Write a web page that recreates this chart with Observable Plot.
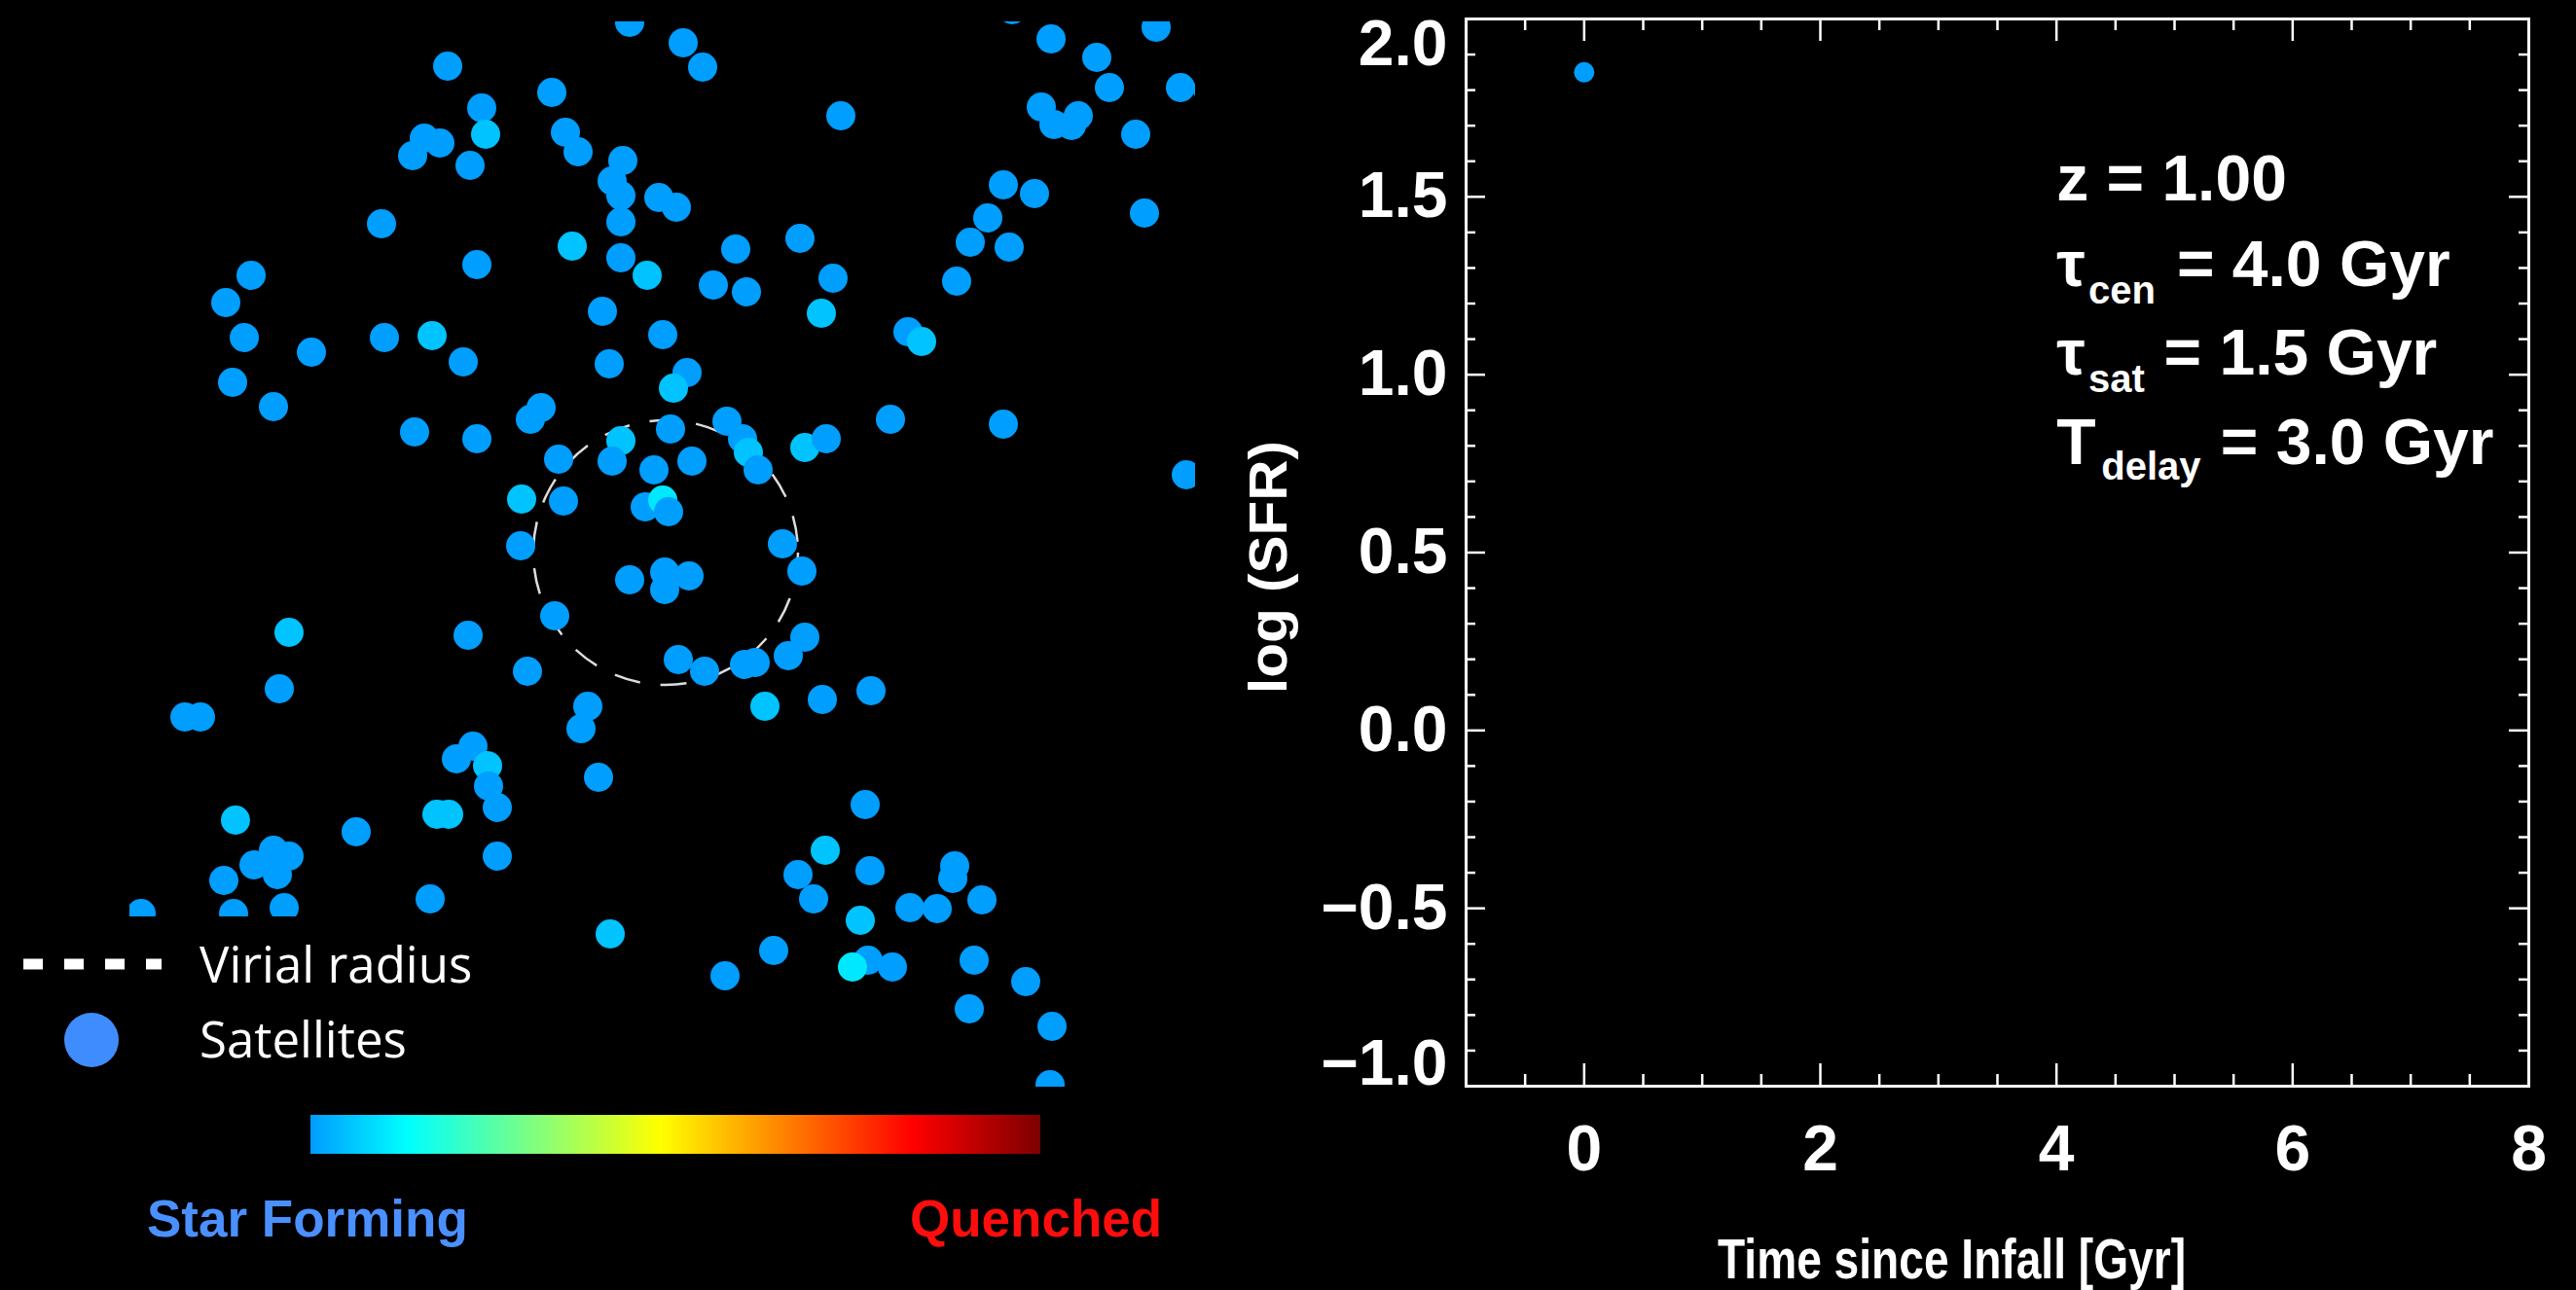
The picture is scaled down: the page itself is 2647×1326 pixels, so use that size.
<!DOCTYPE html>
<html><head><meta charset="utf-8">
<script src="https://cdn.jsdelivr.net/npm/d3@7"></script>
<script src="https://cdn.jsdelivr.net/npm/@observablehq/plot@0.6"></script>
<style>
html, body { margin:0; padding:0; background:#000; }
#page { position:relative; width:2647px; height:1326px; overflow:hidden; background:#000; }
#scatter { position:absolute; left:133px; top:22px; width:1095px; }
#overlay { position:absolute; left:0; top:0; }
#colorbar { position:absolute; left:319px; top:1146px; width:750px; }
#sfr { position:absolute; left:1250px; top:0; width:1397px; }
</style></head>
<body><div id="page">
<div id="scatter"></div>
<svg id="overlay" width="1250" height="1326">
  <rect x="0" y="942" width="560" height="384" fill="#000"></rect>
  <line x1="24" x2="166" y1="991" y2="991" stroke="#fff" stroke-width="11" stroke-dasharray="20 22"></line>
  <circle cx="94" cy="1069" r="28" fill="#3f8cff"></circle>
  <text x="205" y="1010" fill="#fff" font-family="'Open Sans', 'Noto Sans', sans-serif" font-size="51">Virial radius</text>
  <text x="205" y="1087" fill="#fff" font-family="'Open Sans', 'Noto Sans', sans-serif" font-size="51">Satellites</text>
  <text x="151" y="1271" fill="#4a90ff" font-family="'Liberation Sans', Arial, sans-serif" font-weight="bold" font-size="53">Star Forming</text>
  <text x="935" y="1271" fill="#ff0d0d" font-family="'Liberation Sans', Arial, sans-serif" font-weight="bold" font-size="53">Quenched</text>
</svg>
<div id="colorbar"></div>
<div id="sfr"></div>
</div>
<script>
// ---------- Left panel: satellite positions (kpc, relative to panel centre) ----------
const satX = [-34,-221,-114,-186,-182,-245,-229,-257,-198,-100,-87,-41,-52,-43,-43,-4,14,-289,-93,-43,-16,-191,-423,-449,-62,0,-430,-361,-286,-237,-205,-55,25,11,-442,-400,-125,-136,-255,-191,8,-43,-52,-107,-9,-145,-102,-18,0,6,-146,
  21,41,359,399,507,446,459,532,560,389,427,402,420,486,183,350,382,495,334,316,356,302,141,75,52,86,175,163,252,266,234,350,66,82,88,98,30,146,168,538,123,
  -34,2,27,2,-111,-384,-200,-139,-394,-491,-475,-77,-84,-66,-212,-195,-180,-179,-170,-232,-220,-439,-315,-170,-400,-384,-420,-396,-451,-239,-389,-441,-536,-54,
  143,146,129,16,43,84,95,105,164,214,208,167,139,155,213,300,298,328,254,282,203,114,64,211,195,236,320,373,315,400,398];
const satY = [547,502,475,459,432,428,423,410,400,434,414,405,384,369,342,367,357,340,317,305,287,298,287,259,250,226,223,208,223,225,198,196,187,171,177,152,151,139,126,119,129,117,96,98,87,57,55,49,56,44,9,
  526,501,560,530,542,511,480,480,478,460,451,442,441,432,451,380,371,351,346,321,316,281,325,314,277,270,284,248,229,219,139,134,137,119,105,87,96,110,119,82,11,
  -26,-18,-22,-36,-63,-80,-83,-120,-138,-167,-167,-156,-179,-229,-210,-197,-217,-238,-260,-267,-267,-273,-285,-310,-304,-310,-319,-329,-335,-354,-363,-369,-369,-390,
  -17,-85,-104,-108,-120,-113,-111,-156,-149,-140,-257,-304,-329,-354,-325,-320,-333,-355,-363,-364,-376,-407,-433,-417,-424,-424,-417,-439,-467,-485,-545];
// quenched fraction (0 = star forming, 1 = quenched)
const satQ = [0,0,0,0,0.05,0,0,0,0,0,0,0,0,0,0,0,0,0,0.05,0,0.05,0,0,0,0,0,0,0,0,0.05,0,0,0,0.05,0,0,0,0,0,0,0,0.05,0,0,0,0.05,0,0,0.1,0,0,
  0,0,0,0,0,0,0,0,0,0,0,0,0,0,0,0,0,0,0,0,0,0,0,0,0,0,0,0.05,0,0.05,0,0,0,0,0.05,0,0,0.05,0,0,0,
  0,0,0,0,0,0.05,0,0,0,0,0,0,0,0,0,0,0.05,0,0,0.05,0.05,0.05,0,0,0,0,0,0,0,0,0,0,0,0.05,
  0,0,0,0,0,0,0,0.05,0,0,0,0.05,0,0,0,0,0,0,0,0,0.05,0,0,0,0.1,0,0,0,0,0,0];
const groupCenter = [3, 2];      // kpc
const virialRadius = 136;        // kpc
const panelHalf = 547.5;         // kpc

// ---------- Right panel: SFR history ----------
const sfrTime = [0];
const sfrLog = [1.85];
const sfrQ = [0];
const xLabelTicks = [0, 2, 4, 6, 8];
const xMajorTicks = [0, 2, 4, 6];
const xMinorTicks = [-0.5, 0.5, 1, 1.5, 2.5, 3, 3.5, 4.5, 5, 5.5, 6.5, 7, 7.5];
const yMidTicks = [-0.5, 0, 0.5, 1, 1.5];
const yMajorTicks = [-0.5, 0, 0.5, 1, 1.5];
const yMinorTicks = [-0.9,-0.8,-0.7,-0.6,-0.4,-0.3,-0.2,-0.1,0.1,0.2,0.3,0.4,0.6,0.7,0.8,0.9,1.1,1.2,1.3,1.4,1.6,1.7,1.8,1.9];
const annoMain = [
  {x: 4.0, y: 1.49, text: "z = 1.00"},
  {x: 4.0, y: 1.25, text: "τ"}, {x: 5.02, y: 1.25, text: "= 4.0 Gyr"},
  {x: 4.0, y: 1.0, text: "τ"}, {x: 4.91, y: 1.0, text: "= 1.5 Gyr"},
  {x: 4.0, y: 0.75, text: "T"}, {x: 5.39, y: 0.75, text: "= 3.0 Gyr"}
];
const annoSub = [
  {x: 4.27, y: 1.2, text: "cen"},
  {x: 4.27, y: 0.95, text: "sat"},
  {x: 4.38, y: 0.705, text: "delay"}
];

// jet colour map, truncated to its light-blue → dark-red part
function jet(t) {
  const c = v => Math.max(0, Math.min(1, v));
  const r = c(1.5 - Math.abs(4 * t - 3)), g = c(1.5 - Math.abs(4 * t - 2)), b = c(1.5 - Math.abs(4 * t - 1));
  return `rgb(${Math.round(r * 255)},${Math.round(g * 255)},${Math.round(b * 255)})`;
}
const colorOpts = {type: "linear", domain: [0, 1], interpolate: f => jet(0.28 + 0.72 * f)};

const sats = satX.map((x, i) => ({x, y: satY[i], q: satQ[i]}));
const S = 1095;
const scatter = Plot.plot({
  width: S, height: S, margin: 0,
  x: {domain: [-panelHalf, panelHalf], axis: null},
  y: {domain: [-panelHalf, panelHalf], axis: null},
  color: colorOpts,
  style: {background: "transparent"},
  marks: [
    Plot.dot([groupCenter], {x: d => d[0], y: d => d[1], r: virialRadius * S / (2 * panelHalf),
      stroke: "#dcdcdc", strokeWidth: 2.5, strokeDasharray: "27 21", fill: "none"}),
    Plot.dot(sats, {x: "x", y: "y", fill: "q", r: 15, clip: true})
  ]
});
document.getElementById("scatter").append(scatter);

const bar = Plot.legend({color: colorOpts, width: 750, height: 40, marginTop: 0, marginBottom: 0,
  marginLeft: 0, marginRight: 0, ticks: [], tickSize: 0, label: null, style: {background: "transparent"}});
document.getElementById("colorbar").append(bar);

// ---------- Right panel ----------
const W = 1397, H = 1326, mL = 256, mR = 49, mT = 19, mB = 210;
const fW = W - mL - mR, fH = H - mT - mB;
const tk = {stroke: "white", strokeWidth: 2.5};
const fmt = d3.format(".1f");
const sfrData = sfrTime.map((t, i) => ({t, v: sfrLog[i], q: sfrQ[i]}));
const sfr = Plot.plot({
  width: W, height: H, marginLeft: mL, marginRight: mR, marginTop: mT, marginBottom: mB,
  x: {domain: [-1, 8]},
  y: {domain: [-1, 2]},
  color: colorOpts,
  style: {background: "transparent", color: "white", fontFamily: "'Liberation Sans', Arial, Helvetica, sans-serif",
    fontWeight: "bold", fontSize: "66px", overflow: "visible"},
  marks: [
    Plot.tickX(xMinorTicks, {...tk, insetTop: fH - 12}),
    Plot.tickX(xMinorTicks, {...tk, insetBottom: fH - 12}),
    Plot.tickX(xMajorTicks, {...tk, insetTop: fH - 23}),
    Plot.tickX(xMajorTicks, {...tk, insetBottom: fH - 23}),
    Plot.tickY(yMinorTicks, {...tk, insetRight: fW - 10}),
    Plot.tickY(yMinorTicks, {...tk, insetLeft: fW - 10}),
    Plot.tickY(yMajorTicks, {...tk, insetRight: fW - 20}),
    Plot.tickY(yMajorTicks, {...tk, insetLeft: fW - 20}),
    Plot.frame({stroke: "white", strokeWidth: 3}),
    Plot.axisX({ticks: xLabelTicks, tickSize: 0, tickPadding: 40, label: null, tickFormat: d3.format("d")}),
    Plot.axisY({ticks: yMidTicks, tickSize: 0, tickPadding: 19, label: null, tickFormat: fmt}),
    Plot.axisY({ticks: [2], tickSize: 0, tickPadding: 19, label: null, tickFormat: fmt, dy: 26}),
    Plot.axisY({ticks: [-1], tickSize: 0, tickPadding: 19, label: null, tickFormat: fmt, dy: -23}),
    Plot.dot(sfrData, {x: "t", y: "v", fill: "q", r: 10.5}),
    Plot.text(annoMain, {x: "x", y: "y", text: "text", textAnchor: "start", lineAnchor: "bottom", fontSize: 66, fill: "white"}),
    Plot.text(annoSub, {x: "x", y: "y", text: "text", textAnchor: "start", lineAnchor: "bottom", fontSize: 40, fill: "white"}),
    Plot.text(["log (SFR)"], {text: d => d, frameAnchor: "left", textAnchor: "middle", rotate: -90, dx: -185, dy: 15, lineAnchor: "bottom", fontSize: 56, fill: "white"}),
    Plot.text(["Time since Infall [Gyr]"], {text: d => d, frameAnchor: "bottom", textAnchor: "middle", dx: -47, dy: 197, lineAnchor: "bottom", fontSize: 58, fill: "white"})
  ]
});
document.getElementById("sfr").append(sfr);
d3.select(sfr).selectAll("text").each(function() {
  if (this.textContent === "Time since Infall [Gyr]") d3.select(this).attr("textLength", 481).attr("lengthAdjust", "spacingAndGlyphs");
  if (this.textContent === "log (SFR)") d3.select(this).attr("textLength", 260).attr("lengthAdjust", "spacingAndGlyphs");
});
</script>
</body></html>
